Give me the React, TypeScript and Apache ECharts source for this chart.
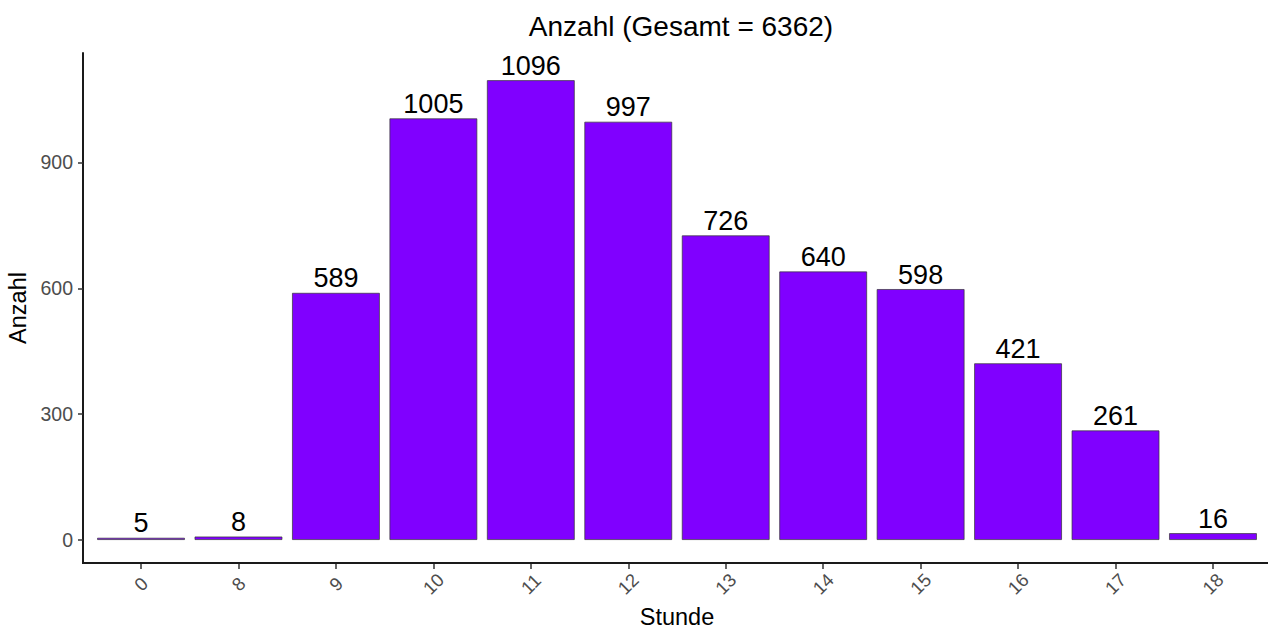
import React, { useEffect, useRef } from "react";
import * as echarts from "echarts";

const hours = ["0", "8", "9", "10", "11", "12", "13", "14", "15", "16", "17", "18"];
const counts = [5, 8, 589, 1005, 1096, 997, 726, 640, 598, 421, 261, 16];
const yTicks = [0, 300, 600, 900];
const titleText = "Anzahl (Gesamt = 6362)";
const xName = "Stunde";
const yName = "Anzahl";

const FONT = "'Liberation Sans', Arial, Helvetica, sans-serif";

export default function App() {
  const ref = useRef<HTMLDivElement>(null);
  useEffect(() => {
    if (!ref.current) return;
    document.body.style.margin = "0";
    const chart = echarts.init(ref.current, null, { renderer: "svg" });
    chart.setOption({
      animation: false,
      backgroundColor: "#ffffff",
      textStyle: { fontFamily: FONT },
      title: {
        text: titleText,
        left: 676,
        textAlign: "center",
        top: 7,
        textStyle: { fontFamily: FONT, fontSize: 28, fontWeight: "normal", color: "#000" },
      },
      grid: {
        left: 92.3,
        top: 53,
        width: 1169.4,
        height: 510,
        containLabel: false,
        outerBoundsMode: "none",
      },
      xAxis: {
        type: "category",
        data: hours,
        name: xName,
        nameLocation: "middle",
        nameGap: 41,
        nameTextStyle: { fontFamily: FONT, fontSize: 23.5, lineHeight: 23.5, color: "#000" },
        axisLine: { show: false, onZero: false },
        axisTick: { show: true, alignWithLabel: true, length: 6, lineStyle: { color: "#333", width: 1.5 } },
        axisLabel: {
          rotate: 45,
          align: "center",
          verticalAlign: "middle",
          margin: 21,
          fontSize: 18.5,
          color: "#4d4d4d",
          fontFamily: FONT,
        },
        splitLine: { show: false },
      },
      yAxis: {
        type: "value",
        min: -55,
        max: 1161,
        offset: 9.3,
        name: yName,
        nameLocation: "middle",
        nameRotate: 90,
        nameGap: 50,
        nameTextStyle: { fontFamily: FONT, fontSize: 23.5, color: "#000" },
        axisLine: { show: true, lineStyle: { color: "#1a1a1a", width: 2 } },
        axisTick: { show: true, length: 5, customValues: yTicks, lineStyle: { color: "#333", width: 1.5 } },
        axisLabel: { customValues: yTicks, margin: 10, fontSize: 19.5, color: "#4d4d4d", fontFamily: FONT },
        splitLine: { show: false },
      },
      graphic: [
        {
          type: "line",
          shape: { x1: 82, y1: 563, x2: 1268, y2: 563 },
          style: { stroke: "#1a1a1a", lineWidth: 2 },
          z: 10,
        },
      ],
      series: [
        {
          type: "bar",
          data: counts,
          barWidth: "90%",
          itemStyle: { color: "#8000ff", borderColor: "#333333", borderWidth: 0.7 },
          label: {
            show: true,
            position: "top",
            distance: 1,
            fontSize: 27,
            color: "#000",
            fontFamily: FONT,
          },
        },
      ],
    });
    return () => chart.dispose();
  }, []);
  return (
    <div
      ref={ref}
      style={{ position: "fixed", left: 0, top: 0, width: 1268, height: 629 }}
    />
  );
}
